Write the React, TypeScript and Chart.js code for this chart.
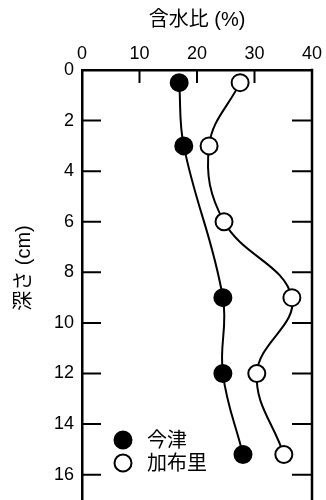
import React, { useEffect, useRef } from "react";
import { Chart, registerables } from "chart.js";

Chart.register(...registerables);

const xTitle = "含水比 (%)";
const yTitle = "深さ (cm)";
const seriesNames = ["今津", "加布里"];
const depths = [0.5, 3, 9, 12, 15.2];
const imazuWater = [16.9, 17.7, 24.5, 24.5, 28.0];
const kafuriDepths = [0.5, 3, 6, 9, 12, 15.2];
const kafuriWater = [27.5, 22.1, 24.7, 36.5, 30.4, 35.1];
const xTicks = [0, 10, 20, 30, 40];
const yTicks = [0, 2, 4, 6, 8, 10, 12, 14, 16];

const FONT = "'Liberation Sans', Arial, 'Noto Sans CJK JP', sans-serif";

const decorPlugin = {
  id: "decor",
  afterDraw(chart: any) {
    const { ctx, chartArea } = chart;
    const xs = chart.scales.x;
    const ys = chart.scales.y;
    ctx.save();
    ctx.strokeStyle = "#000";
    // right border
    ctx.lineWidth = 2.5;
    ctx.beginPath();
    ctx.moveTo(chartArea.right, chartArea.top - 1.25);
    ctx.lineTo(chartArea.right, chartArea.bottom);
    ctx.stroke();
    ctx.lineWidth = 2;
    // inside ticks
    yTicks.forEach((v) => {
      if (v === 0) return;
      const y = ys.getPixelForValue(v);
      ctx.beginPath();
      ctx.moveTo(chartArea.left, y);
      ctx.lineTo(chartArea.left + 19, y);
      ctx.moveTo(chartArea.right, y);
      ctx.lineTo(chartArea.right - 20, y);
      ctx.stroke();
    });
    xTicks.forEach((v) => {
      if (v === 0 || v === 40) return;
      const x = xs.getPixelForValue(v);
      ctx.beginPath();
      ctx.moveTo(x, chartArea.top);
      ctx.lineTo(x, chartArea.top + 13);
      ctx.stroke();
    });
    // titles
    ctx.fillStyle = "#000";
    ctx.font = `20px ${FONT}`;
    ctx.textAlign = "center";
    ctx.textBaseline = "middle";
    ctx.fillText(xTitle, 197, 20);
    ctx.save();
    ctx.translate(24, 268);
    ctx.rotate(-Math.PI / 2);
    ctx.fillText(yTitle, 0, 0);
    ctx.restore();
    // legend
    ctx.textAlign = "left";
    const items = [
      { y: 440, fill: "#000" },
      { y: 463, fill: "#fff" },
    ];
    items.forEach((it, i) => {
      ctx.beginPath();
      ctx.arc(123, it.y, 8.5, 0, Math.PI * 2);
      ctx.fillStyle = it.fill;
      ctx.fill();
      ctx.lineWidth = 2;
      ctx.strokeStyle = "#000";
      ctx.stroke();
      ctx.fillStyle = "#000";
      ctx.fillText(seriesNames[i], 147, it.y + 1);
    });
    ctx.restore();
  },
};

export default function App() {
  const ref = useRef<HTMLCanvasElement>(null);
  useEffect(() => {
    if (!ref.current) return;
    const chart = new Chart(ref.current, {
      type: "scatter",
      data: {
        datasets: [
          {
            label: seriesNames[0],
            data: depths.map((d, i) => ({ x: imazuWater[i], y: d })),
            showLine: true,
            tension: 0.4,
            borderColor: "#000",
            borderWidth: 2,
            pointRadius: 8.5,
            pointBorderWidth: 2,
            pointBackgroundColor: "#000",
            pointBorderColor: "#000",
            clip: false,
          },
          {
            label: seriesNames[1],
            data: kafuriDepths.map((d, i) => ({ x: kafuriWater[i], y: d })),
            showLine: true,
            tension: 0.4,
            borderColor: "#000",
            borderWidth: 2,
            pointRadius: 8.5,
            pointBorderWidth: 2,
            pointBackgroundColor: "#fff",
            pointBorderColor: "#000",
            clip: false,
          },
        ],
      },
      options: {
        animation: false,
        responsive: false,
        events: [],
        layout: { autoPadding: false, padding: { right: 14, bottom: 0, top: 0, left: 0 } },
        plugins: { legend: { display: false }, tooltip: { enabled: false } },
        scales: {
          x: {
            type: "linear",
            position: "top",
            min: 0,
            max: 40,
            afterFit: (s: any) => {
              s.height = 70;
              s.paddingLeft = 0;
              s.paddingRight = 0;
              s.paddingTop = 0;
              s.paddingBottom = 0;
            },
            afterBuildTicks: (s: any) => {
              s.ticks = xTicks.map((v) => ({ value: v }));
            },
            ticks: {
              color: "#000",
              font: { family: FONT, size: 18 },
              padding: 5,
              maxRotation: 0,
            },
            grid: { display: true, drawOnChartArea: false, drawTicks: false },
            border: { display: true, color: "#000", width: 2.5 },
          },
          y: {
            type: "linear",
            reverse: true,
            min: 0,
            max: 17,
            afterFit: (s: any) => {
              s.width = 82;
              s.paddingTop = 0;
              s.paddingBottom = 0;
              s.paddingLeft = 0;
              s.paddingRight = 0;
            },
            afterBuildTicks: (s: any) => {
              s.ticks = yTicks.map((v) => ({ value: v }));
            },
            ticks: {
              color: "#000",
              font: { family: FONT, size: 18 },
              padding: 8,
            },
            grid: { display: true, drawOnChartArea: false, drawTicks: false },
            border: { display: true, color: "#000", width: 2.5 },
          },
        },
      },
      plugins: [decorPlugin],
    } as any);
    return () => chart.destroy();
  }, []);
  return (
    <div style={{ position: "fixed", left: 0, top: 0, width: 326, height: 500, background: "#fff" }}>
      <canvas ref={ref} width={326} height={500} style={{ display: "block" }} />
    </div>
  );
}
